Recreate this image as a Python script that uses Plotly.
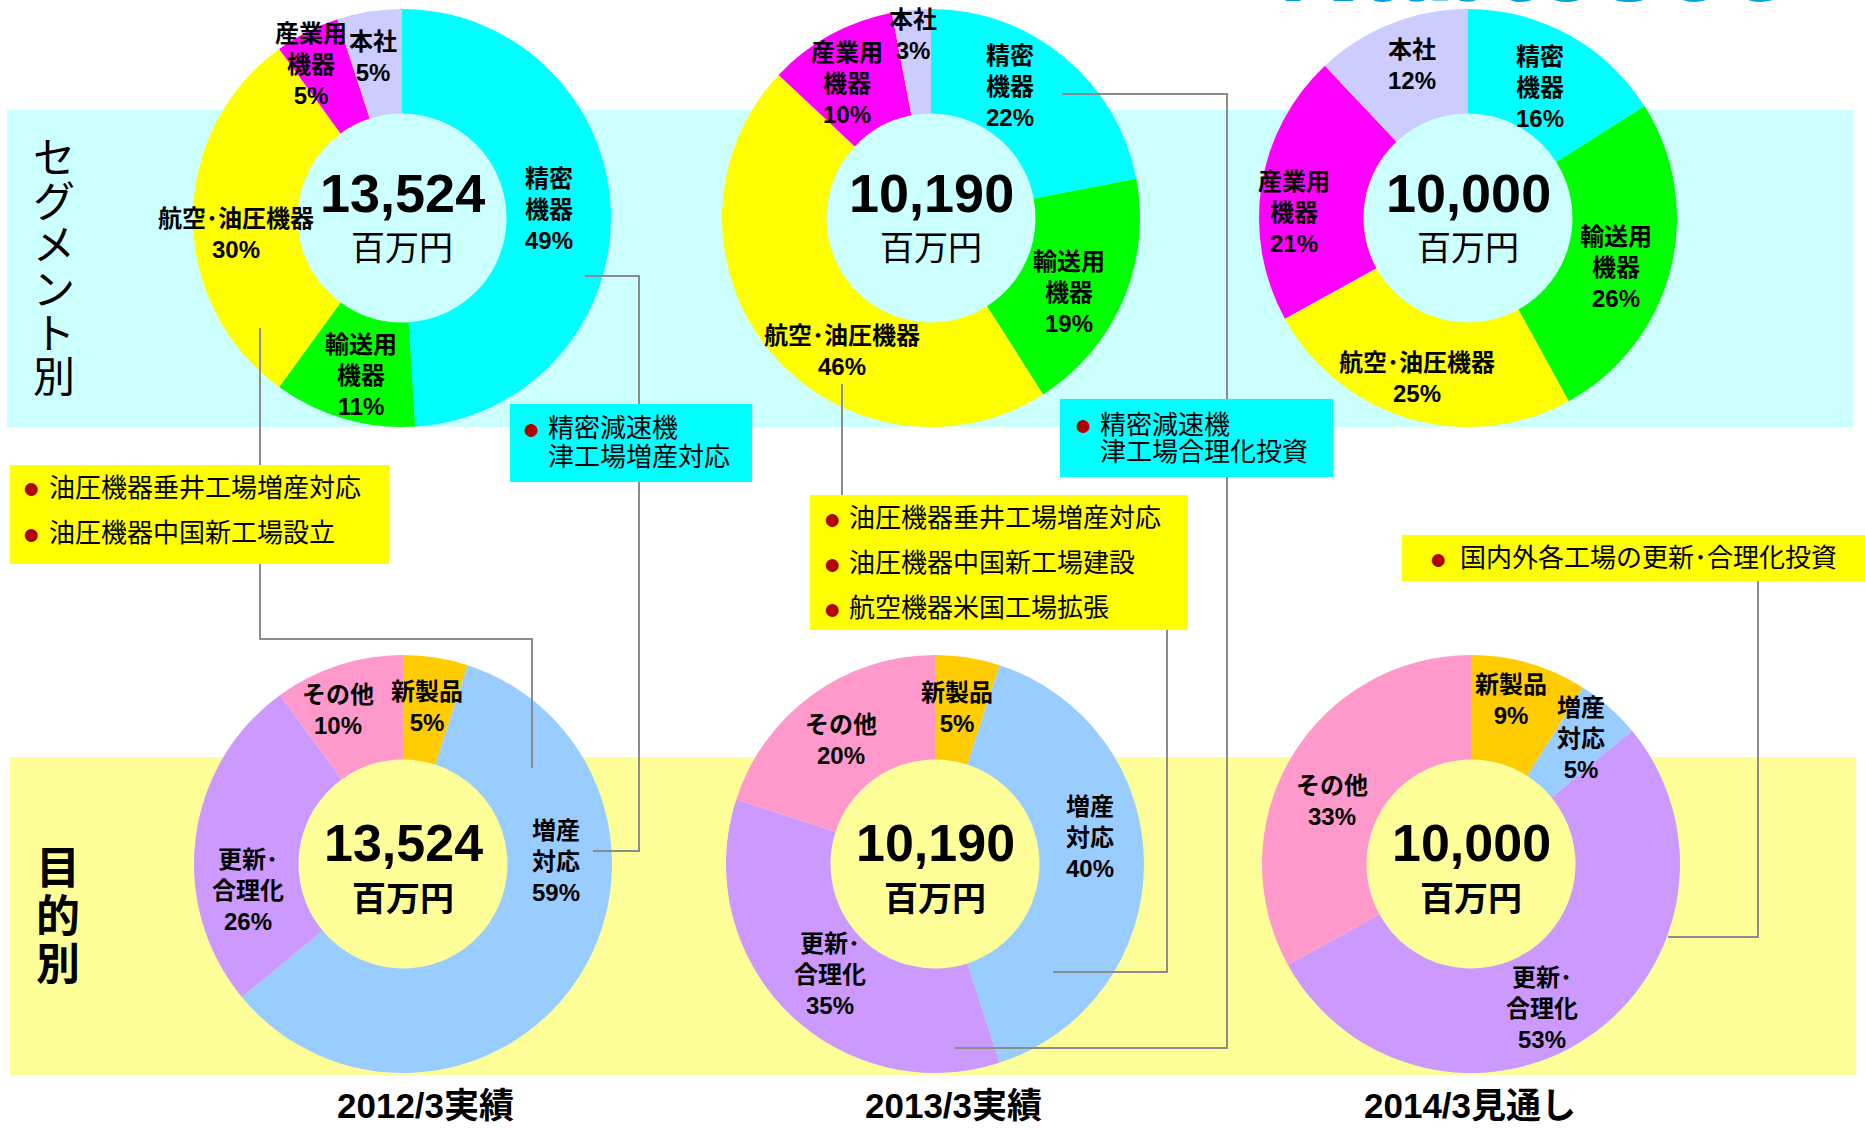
import plotly.graph_objects as go

W, H = 1865, 1129

# ---------------- data ----------------
years = ["2012/3実績", "2013/3実績", "2014/3見通し"]
totals = ["13,524", "10,190", "10,000"]
unit = "百万円"

seg_names = ["精密機器", "輸送用機器", "航空・油圧機器", "産業用機器", "本社"]
seg_2012 = [49, 11, 30, 5, 5]
seg_2013 = [22, 19, 46, 10, 3]
seg_2014 = [16, 26, 25, 21, 12]

pur_names = ["新製品", "増産対応", "更新・合理化", "その他"]
pur_2012 = [5, 59, 26, 10]
pur_2013 = [5, 40, 35, 20]
pur_2014 = [9, 5, 53, 33]

row_titles = ["セグメント別", "目的別"]

callout_2012_seg = ["精密減速機", "津工場増産対応"]
callout_2012_pur = ["油圧機器垂井工場増産対応", "油圧機器中国新工場設立"]
callout_2013_seg = ["精密減速機", "津工場合理化投資"]
callout_2013_pur = ["油圧機器垂井工場増産対応", "油圧機器中国新工場建設", "航空機器米国工場拡張"]
callout_2014_pur = ["国内外各工場の更新･合理化投資"]

# ---------------- styles / layout positions ----------------
seg_colors = ["#00FFFF", "#00FF00", "#FFFF00", "#FF00FF", "#CCCCFF"]
pur_colors = ["#FFCC00", "#99CCFF", "#CC99FF", "#FF99CC"]
seg_disp = {"精密機器": "精密<br>機器", "輸送用機器": "輸送用<br>機器",
            "航空・油圧機器": "航空･油圧機器", "産業用機器": "産業用<br>機器", "本社": "本社"}
pur_disp = {"新製品": "新製品", "増産対応": "増産<br>対応",
            "更新・合理化": "更新･<br>合理化", "その他": "その他"}

FONT = "Liberation Sans, Arial, Noto Sans CJK JP"
R = 209
top_cx = [402, 931, 1468]
top_cy = 218
bot_cx = [403, 935, 1471]
bot_cy = 864

seg_pos = [
    [(549, 209), (361, 376), (236, 234), (311, 64), (373, 57)],
    [(1010, 87), (1069, 293), (842, 351), (847, 83), (913, 35)],
    [(1540, 88), (1616, 267), (1417, 378), (1294, 212), (1412, 65)],
]
pur_pos = [
    [(427, 707), (556, 861), (248, 891), (338, 710)],
    [(957, 708), (1090, 837), (830, 974), (841, 740)],
    [(1511, 700), (1581, 738), (1542, 1008), (1332, 801)],
]


def px(x):
    return x / W


def py(y):
    return 1 - y / H


fig = go.Figure()

seg_vals = [seg_2012, seg_2013, seg_2014]
pur_vals = [pur_2012, pur_2013, pur_2014]

for i in range(3):
    fig.add_trace(go.Pie(
        labels=seg_names, values=seg_vals[i], hole=0.5, sort=False,
        direction="clockwise", rotation=0, textinfo="none", hoverinfo="label+percent",
        marker=dict(colors=seg_colors, line=dict(width=0)), showlegend=False,
        domain=dict(x=[px(top_cx[i] - R), px(top_cx[i] + R)],
                    y=[py(top_cy + R), py(top_cy - R)]),
    ))
    fig.add_trace(go.Pie(
        labels=pur_names, values=pur_vals[i], hole=0.5, sort=False,
        direction="clockwise", rotation=0, textinfo="none", hoverinfo="label+percent",
        marker=dict(colors=pur_colors, line=dict(width=0)), showlegend=False,
        domain=dict(x=[px(bot_cx[i] - R), px(bot_cx[i] + R)],
                    y=[py(bot_cy + R), py(bot_cy - R)]),
    ))

shapes = []
# background bands
shapes.append(dict(type="rect", xref="paper", yref="paper", layer="below",
                   x0=px(7), x1=px(1853), y0=py(427), y1=py(110),
                   fillcolor="#CCFFFF", line=dict(width=0)))
shapes.append(dict(type="rect", xref="paper", yref="paper", layer="below",
                   x0=px(10), x1=px(1856), y0=py(1075), y1=py(757),
                   fillcolor="#FFFF99", line=dict(width=0)))


def path(points):
    d = "M " + " L ".join(f"{px(x)},{py(y)}" for x, y in points)
    return dict(type="path", xref="paper", yref="paper", path=d, layer="above",
                line=dict(color="#8C8C8C", width=2))


connectors = [
    [(260, 328), (260, 639), (532, 639), (532, 768)],
    [(585, 276), (639, 276), (639, 851), (593, 851)],
    [(1062, 94), (1227, 94), (1227, 1048), (955, 1048)],
    [(842, 384), (842, 560)],
    [(1167, 560), (1167, 972), (1053, 972)],
    [(1758, 560), (1758, 937), (1668, 937)],
]
for c in connectors:
    shapes.append(path(c))

boxes = [
    ((10, 465, 389, 564), "#FFFF00"),
    ((510, 404, 752, 482), "#00FFFF"),
    ((1060, 399, 1333, 477), "#00FFFF"),
    ((810, 495, 1188, 630), "#FFFF00"),
    ((1402, 535, 1865, 581), "#FFFF00"),
]
for (x0, y0, x1, y1), col in boxes:
    shapes.append(dict(type="rect", xref="paper", yref="paper", layer="above",
                       x0=px(x0), x1=px(x1), y0=py(y1), y1=py(y0),
                       fillcolor=col, line=dict(width=0)))

ann = []


def text(x, y, t, size, bold=True, xanchor="center", color="black"):
    ann.append(dict(x=px(x), y=py(y), xref="paper", yref="paper", text=t,
                    showarrow=False, xanchor=xanchor, yanchor="middle", align="center",
                    font=dict(family=FONT, size=size, color=color,
                              weight="bold" if bold else "normal")))


# slice labels
for i in range(3):
    for name, v, (x, y) in zip(seg_names, seg_vals[i], seg_pos[i]):
        text(x, y, f"{seg_disp[name]}<br>{v}%", 24)
    for name, v, (x, y) in zip(pur_names, pur_vals[i], pur_pos[i]):
        text(x, y, f"{pur_disp[name]}<br>{v}%", 24)
    # centre totals
    text(top_cx[i], 193, totals[i], 54)
    text(top_cx[i], 248, unit, 34, bold=False)
    text(bot_cx[i], 843, totals[i], 52)
    text(bot_cx[i], 899, unit, 34)

# year labels
for x, t in zip([425, 953, 1470], years):
    text(x, 1105, t, 35)

# row titles (vertical)
for k, ch in enumerate(row_titles[0]):
    text(54, 158 + 44 * k, ch, 42, bold=False)
for k, ch in enumerate(row_titles[1]):
    text(58, 868 + 48 * k, ch, 44)


def bullet(x, y):
    text(x, y, "●", 30, bold=False, color="#B00000")


# callouts
CS = 26
for k, line in enumerate(callout_2012_pur):
    y = 488 + 45 * k
    bullet(31, y)
    text(47, y, line, CS, bold=False, xanchor="left")

bullet(531, 428)
text(546, 428, callout_2012_seg[0], CS, bold=False, xanchor="left")
text(546, 457, callout_2012_seg[1], CS, bold=False, xanchor="left")

bullet(1083, 425)
text(1098, 425, callout_2013_seg[0], CS, bold=False, xanchor="left")
text(1098, 452, callout_2013_seg[1], CS, bold=False, xanchor="left")

for k, line in enumerate(callout_2013_pur):
    y = 518 + 45 * k
    bullet(832, y)
    text(847, y, line, CS, bold=False, xanchor="left")

bullet(1438, 558)
text(1458, 558, callout_2014_pur[0], CS, bold=False, xanchor="left")

# partially visible logo at the top edge
ann.append(dict(x=px(1537), y=py(27), xref="paper", yref="paper", text="Nabtesco",
                showarrow=False, xanchor="center", yanchor="bottom",
                font=dict(family=FONT, size=115, color="#00A0E0", weight="bold")))

fig.update_layout(
    width=W, height=H, margin=dict(l=0, r=0, t=0, b=0),
    paper_bgcolor="white", plot_bgcolor="white",
    shapes=shapes, annotations=ann, showlegend=False,
)

fig.write_html("out.html", config={"displayModeBar": False},
               post_script="document.body.style.margin='0';")
